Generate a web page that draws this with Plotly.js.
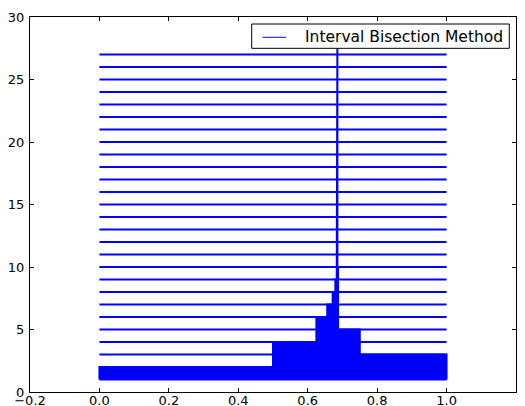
<!DOCTYPE html>
<html>
<head>
<meta charset="utf-8">
<script src="https://cdn.plot.ly/plotly-3.0.1.min.js"></script>
<style>
html, body { margin: 0; padding: 0; background: #ffffff; }
#chart { width: 525px; height: 406px; }
</style>
</head>
<body>
<div id="chart"></div>
<script>
// Iteration number (height of each bracket line)
const iterations = [1, 2, 3, 4, 5, 6, 7, 8, 9, 10, 11, 12, 13, 14, 15, 16, 17, 18, 19, 20, 21, 22, 23, 24, 25, 26, 27];

// Lower end of the bracketing interval at each iteration
const lowerBound = [0, 0.5, 0.5, 0.625, 0.625, 0.65625, 0.671875, 0.6796875, 0.68359375,
  0.68359375, 0.6845703, 0.6850586, 0.6853027, 0.6854248, 0.6854858, 0.6854858, 0.6854858,
  0.6854935, 0.6854973, 0.6854992, 0.6854992, 0.6854997, 0.6854999, 0.6854999, 0.68549996,
  0.68549999, 0.68549999];

// Upper end of the bracketing interval at each iteration
const upperBound = [1, 1, 0.75, 0.75, 0.6875, 0.6875, 0.6875, 0.6875, 0.6875,
  0.6855469, 0.6855469, 0.6855469, 0.6855469, 0.6855469, 0.6855469, 0.6855164, 0.6855011,
  0.6855011, 0.6855011, 0.6855011, 0.6855001, 0.6855001, 0.6855001, 0.68550002, 0.68550002,
  0.68550002, 0.685500005];

const seriesName = 'Interval Bisection Method';
const xTicks = [-0.2, 0.0, 0.2, 0.4, 0.6, 0.8, 1.0, 1.2];
const yTicks = [0, 5, 10, 15, 20, 25, 30];

// Horizontal lines: the starting interval drawn at every iteration level
const hx = [], hy = [];
iterations.forEach(function (k) {
  hx.push(lowerBound[0], upperBound[0], null);
  hy.push(k, k, null);
});

// Staircase outline of the shrinking interval (left edge up, right edge down)
const px = [], py = [];
for (let i = 0; i < iterations.length; i++) {
  px.push(lowerBound[i], lowerBound[i]);
  py.push(iterations[i], iterations[i] + 1);
}
for (let i = iterations.length - 1; i >= 0; i--) {
  px.push(upperBound[i], upperBound[i]);
  py.push(iterations[i] + 1, iterations[i]);
}

const blue = '#0000ff';
const data = [
  {
    type: 'scatter', mode: 'lines', x: px, y: py,
    fill: 'toself', fillcolor: blue,
    line: { color: blue, width: 2 },
    showlegend: false, hoverinfo: 'skip'
  },
  {
    type: 'scatter', mode: 'lines', x: hx, y: hy,
    line: { color: blue, width: 2 },
    name: seriesName, showlegend: false
  }
];

const axisCommon = {
  showline: true, linecolor: '#000000', linewidth: 1, mirror: 'ticks',
  ticks: 'inside', ticklen: 4, tickwidth: 1, tickcolor: '#000000',
  showgrid: false, zeroline: false,
  tickfont: { family: 'DejaVu Sans', size: 13, color: '#000000' }
};

// Legend box (matplotlib style: framed, upper right), drawn in paper coordinates
const legendBox = { x0: 0.4562, x1: 0.9862, y0: 0.9165, y1: 0.9813 };

const layout = {
  width: 525, height: 406,
  margin: { l: 30, r: 9, t: 17, b: 14, pad: 0 },
  paper_bgcolor: '#ffffff', plot_bgcolor: '#ffffff',
  font: { family: 'DejaVu Sans', size: 13, color: '#000000' },
  xaxis: Object.assign({}, axisCommon, {
    range: [xTicks[0], xTicks[xTicks.length - 1]],
    tickmode: 'array', tickvals: xTicks, tickformat: '.1f',
    ticklabelstandoff: -4
  }),
  yaxis: Object.assign({}, axisCommon, {
    range: [yTicks[0], yTicks[yTicks.length - 1]],
    tickmode: 'array', tickvals: yTicks,
    ticklabelstandoff: 2
  }),
  showlegend: false,
  shapes: [
    {
      type: 'rect', xref: 'paper', yref: 'paper',
      x0: legendBox.x0, x1: legendBox.x1, y0: legendBox.y0, y1: legendBox.y1,
      fillcolor: '#ffffff', line: { color: '#000000', width: 1 }, layer: 'above'
    },
    {
      type: 'line', xref: 'paper', yref: 'paper',
      x0: 0.4788, x1: 0.5267, y0: 0.9459, y1: 0.9459,
      line: { color: blue, width: 1 }, layer: 'above'
    }
  ],
  annotations: [
    {
      xref: 'paper', yref: 'paper', x: 0.5623, y: 0.9475,
      xanchor: 'left', yanchor: 'middle', showarrow: false,
      text: seriesName,
      font: { family: 'DejaVu Sans', size: 15.5, color: '#000000' }
    }
  ]
};

Plotly.newPlot('chart', data, layout, { staticPlot: true, displayModeBar: false });
</script>
</body>
</html>
